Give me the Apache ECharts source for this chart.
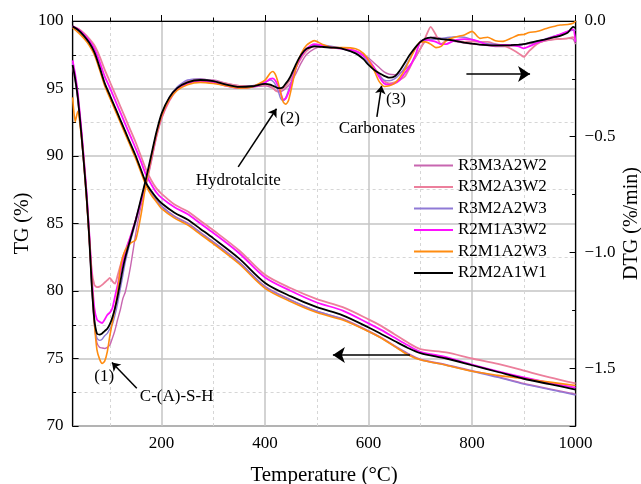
<!DOCTYPE html>
<html><head><meta charset="utf-8">
<script src="https://cdn.jsdelivr.net/npm/echarts@6.0.0/dist/echarts.min.js"></script>
<style>html,body{margin:0;padding:0;background:#fff}#c{width:641px;height:484px}</style>
</head><body><div id="c"></div>
<script>
const FONT = "'Liberation Serif','Times New Roman',serif";
const seriesNames = ['R3M3A2W2','R3M2A3W2','R3M2A2W3','R2M1A3W2','R2M1A2W3','R2M2A1W1'];
const seriesColors = ['#c866b0','#ec7f9c','#8f7ad6','#ff10ff','#ff8c10','#000000'];
const seriesWidths = [1.4,1.8,1.4,1.8,1.6,1.8];

// TG (%) vs temperature (°C)
const tgTemp = [28,40,50,60,70,80,90,100,110,120,130,140,150,160,170,180,190,200,225,250,275,300,350,400,450,500,550,600,625,650,675,700,750,800,850,900,950,1000];
const tg_R3M3A2W2 = [99.6,99.3,98.9,98.35,97.65,96.55,95.35,94.45,93.55,92.65,91.75,90.85,89.95,88.95,87.95,87.25,86.75,86.3,85.55,85.05,84.35,83.65,82.15,80.35,79.35,78.5,77.95,77.05,76.55,75.95,75.4,74.95,74.55,74.1,73.65,73.15,72.75,72.35];
const tg_R3M2A3W2 = [99.6,99.4,99.1,98.7,98.2,97.4,96.4,95.5,94.6,93.7,92.8,91.9,91.0,90.0,89.0,88.2,87.6,87.2,86.4,85.9,85.2,84.5,83.0,81.2,80.2,79.4,78.8,77.9,77.4,76.8,76.2,75.7,75.45,75.0,74.6,74.1,73.6,73.15];
const tg_R3M2A2W3 = [99.6,99.25,98.85,98.3,97.6,96.5,95.3,94.4,93.5,92.6,91.7,90.8,89.9,88.9,87.9,87.2,86.7,86.25,85.5,85.0,84.3,83.6,82.1,80.3,79.3,78.5,77.9,77.0,76.5,75.9,75.35,74.9,74.5,74.05,73.6,73.1,72.7,72.3];
const tg_R2M1A3W2 = [99.6,99.35,99.0,98.55,97.95,97.0,95.9,95.05,94.15,93.25,92.35,91.45,90.55,89.6,88.6,87.9,87.3,86.9,86.2,85.7,85.0,84.3,82.8,81.0,80.0,79.15,78.55,77.6,77.1,76.55,76.0,75.5,75.1,74.55,74.05,73.6,73.2,72.85];
const tg_R2M1A2W3 = [99.5,99.1,98.7,98.2,97.5,96.4,95.2,94.3,93.4,92.5,91.6,90.7,89.8,88.8,87.8,87.1,86.6,86.1,85.4,84.9,84.2,83.5,82.0,80.2,79.2,78.4,77.85,77.0,76.5,75.9,75.3,74.9,74.5,74.05,73.75,73.5,73.25,73.0];
const tg_R2M2A1W1 = [99.6,99.3,98.9,98.4,97.7,96.6,95.4,94.5,93.6,92.7,91.8,90.9,90.0,89.0,88.0,87.4,86.9,86.5,85.8,85.3,84.6,83.9,82.4,80.6,79.6,78.8,78.2,77.3,76.8,76.3,75.8,75.4,75.0,74.5,74.0,73.5,73.1,72.7];

// DTG (%/min) vs temperature (°C)
const dtgTemp = [28,33,38,45,50,55,60,65,70,75,80,85,90,95,100,105,110,115,120,125,130,140,150,160,170,180,190,200,215,230,250,275,300,325,350,375,400,410,415,420,425,430,435,440,445,450,460,470,480,495,510,530,550,575,590,600,610,620,630,640,650,660,670,680,690,700,710,720,730,740,750,760,770,785,800,815,830,845,860,875,890,900,910,925,940,955,970,985,995,1000];
const dtg_R3M3A2W2 = [-0.2,-0.26,-0.34,-0.5,-0.63,-0.77,-0.94,-1.15,-1.31,-1.39,-1.41,-1.413,-1.415,-1.41,-1.4,-1.37,-1.335,-1.29,-1.25,-1.2,-1.17,-1.06,-0.92,-0.8,-0.71,-0.61,-0.5,-0.42,-0.34,-0.29,-0.26,-0.255,-0.255,-0.27,-0.28,-0.285,-0.28,-0.285,-0.29,-0.3,-0.305,-0.305,-0.3,-0.29,-0.28,-0.265,-0.225,-0.18,-0.145,-0.12,-0.11,-0.112,-0.118,-0.13,-0.145,-0.16,-0.18,-0.2,-0.22,-0.23,-0.232,-0.225,-0.21,-0.19,-0.16,-0.12,-0.085,-0.07,-0.07,-0.075,-0.08,-0.085,-0.09,-0.095,-0.1,-0.103,-0.106,-0.11,-0.11,-0.108,-0.105,-0.1,-0.098,-0.095,-0.087,-0.08,-0.077,-0.075,-0.078,-0.1];
const dtg_R3M2A3W2 = [-0.18,-0.24,-0.32,-0.48,-0.61,-0.75,-0.92,-1.08,-1.14,-1.15,-1.148,-1.14,-1.13,-1.12,-1.11,-1.125,-1.135,-1.1,-1.06,-1.02,-0.99,-0.93,-0.86,-0.78,-0.7,-0.6,-0.5,-0.42,-0.345,-0.295,-0.26,-0.25,-0.26,-0.27,-0.28,-0.28,-0.275,-0.28,-0.29,-0.3,-0.305,-0.3,-0.29,-0.28,-0.265,-0.25,-0.2,-0.16,-0.13,-0.11,-0.11,-0.115,-0.12,-0.13,-0.15,-0.17,-0.2,-0.23,-0.26,-0.27,-0.265,-0.255,-0.24,-0.2,-0.155,-0.12,-0.07,-0.025,-0.06,-0.1,-0.085,-0.08,-0.085,-0.09,-0.089,-0.09,-0.09,-0.1,-0.105,-0.12,-0.14,-0.155,-0.13,-0.1,-0.085,-0.08,-0.078,-0.075,-0.07,-0.08];
const dtg_R3M2A2W3 = [-0.18,-0.25,-0.33,-0.49,-0.62,-0.76,-0.93,-1.14,-1.3,-1.37,-1.38,-1.375,-1.36,-1.35,-1.33,-1.31,-1.27,-1.22,-1.16,-1.1,-1.04,-0.95,-0.87,-0.78,-0.69,-0.59,-0.49,-0.405,-0.33,-0.285,-0.255,-0.25,-0.26,-0.275,-0.285,-0.28,-0.265,-0.255,-0.26,-0.275,-0.3,-0.335,-0.345,-0.33,-0.3,-0.27,-0.2,-0.15,-0.12,-0.105,-0.105,-0.11,-0.12,-0.14,-0.16,-0.18,-0.21,-0.235,-0.255,-0.258,-0.25,-0.23,-0.2,-0.16,-0.12,-0.09,-0.085,-0.08,-0.078,-0.075,-0.072,-0.07,-0.068,-0.07,-0.08,-0.09,-0.098,-0.1,-0.105,-0.105,-0.105,-0.1,-0.095,-0.088,-0.078,-0.068,-0.058,-0.045,-0.04,-0.04];
const dtg_R2M1A3W2 = [-0.17,-0.23,-0.31,-0.47,-0.6,-0.74,-0.91,-1.1,-1.24,-1.29,-1.3,-1.305,-1.29,-1.27,-1.26,-1.24,-1.19,-1.14,-1.09,-1.04,-1.0,-0.93,-0.86,-0.78,-0.69,-0.59,-0.49,-0.41,-0.34,-0.295,-0.27,-0.26,-0.265,-0.28,-0.29,-0.285,-0.265,-0.25,-0.248,-0.258,-0.28,-0.31,-0.34,-0.335,-0.31,-0.28,-0.2,-0.15,-0.12,-0.1,-0.105,-0.115,-0.12,-0.13,-0.15,-0.17,-0.2,-0.24,-0.27,-0.275,-0.27,-0.255,-0.225,-0.195,-0.15,-0.09,-0.08,-0.085,-0.09,-0.1,-0.1,-0.09,-0.082,-0.078,-0.08,-0.09,-0.104,-0.105,-0.103,-0.104,-0.11,-0.118,-0.11,-0.095,-0.082,-0.07,-0.058,-0.045,-0.035,-0.09];
const dtg_R2M1A2W3 = [-0.33,-0.435,-0.39,-0.5,-0.62,-0.77,-0.93,-1.12,-1.3,-1.42,-1.46,-1.48,-1.47,-1.43,-1.36,-1.3,-1.24,-1.17,-1.07,-1.02,-0.99,-0.96,-0.945,-0.84,-0.7,-0.59,-0.49,-0.41,-0.34,-0.3,-0.275,-0.265,-0.27,-0.28,-0.29,-0.285,-0.255,-0.225,-0.218,-0.232,-0.265,-0.31,-0.35,-0.36,-0.345,-0.3,-0.2,-0.14,-0.105,-0.085,-0.1,-0.115,-0.115,-0.12,-0.14,-0.17,-0.21,-0.26,-0.283,-0.28,-0.27,-0.245,-0.21,-0.165,-0.12,-0.09,-0.09,-0.1,-0.115,-0.11,-0.085,-0.075,-0.068,-0.06,-0.045,-0.075,-0.07,-0.085,-0.088,-0.075,-0.06,-0.058,-0.05,-0.045,-0.035,-0.025,-0.017,-0.015,-0.01,0.0];
const dtg_R2M2A1W1 = [-0.19,-0.25,-0.33,-0.49,-0.62,-0.76,-0.93,-1.14,-1.29,-1.35,-1.355,-1.35,-1.34,-1.33,-1.31,-1.28,-1.24,-1.19,-1.13,-1.07,-1.02,-0.94,-0.86,-0.77,-0.68,-0.58,-0.48,-0.4,-0.33,-0.29,-0.265,-0.255,-0.26,-0.275,-0.285,-0.282,-0.272,-0.275,-0.28,-0.285,-0.29,-0.29,-0.285,-0.27,-0.255,-0.235,-0.185,-0.145,-0.12,-0.11,-0.112,-0.115,-0.12,-0.14,-0.165,-0.19,-0.21,-0.225,-0.237,-0.245,-0.24,-0.215,-0.18,-0.145,-0.115,-0.09,-0.076,-0.072,-0.075,-0.078,-0.08,-0.083,-0.087,-0.093,-0.098,-0.102,-0.104,-0.105,-0.105,-0.104,-0.102,-0.1,-0.095,-0.087,-0.08,-0.072,-0.064,-0.05,-0.025,-0.03];

const tgSets = [tg_R3M3A2W2,tg_R3M2A3W2,tg_R3M2A2W3,tg_R2M1A3W2,tg_R2M1A2W3,tg_R2M2A1W1];
const dtgSets = [dtg_R3M3A2W2,dtg_R3M2A3W2,dtg_R3M2A2W3,dtg_R2M1A3W2,dtg_R2M1A2W3,dtg_R2M2A1W1];

// Annotations (data coordinates: temperature, TG axis)
const annoTexts = [
  {name:'Hydrotalcite', coord:[348,88.2]},
  {name:'(2)', coord:[448,92.75]},
  {name:'Carbonates', coord:[616,92.0]},
  {name:'(3)', coord:[653,94.15]},
  {name:'(1)', coord:[89,73.65]},
  {name:'C-(A)-S-H', coord:[229,72.2]}
];
const annoArrows = [
  {from:[348,89.2], to:[422,93.5], size:8},
  {from:[616,92.9], to:[625,95.2], size:8},
  {from:[152,72.8], to:[104,74.7], size:8},
  {from:[789,96.07], to:[912,96.07], size:12},
  {from:[680,75.26], to:[531,75.26], size:12}
];

const chart = echarts.init(document.getElementById('c'));
const series = [];
seriesNames.forEach((n,i)=>{
  series.push({name:n,type:'line',xAxisIndex:0,yAxisIndex:0,symbol:'none',smooth:0.3,
    lineStyle:{color:seriesColors[i],width:seriesWidths[i]},itemStyle:{color:seriesColors[i]},
    data:tgTemp.map((t,k)=>[t,tgSets[i][k]]),animation:false});
  series.push({name:n,type:'line',xAxisIndex:0,yAxisIndex:1,symbol:'none',smooth:0.2,
    lineStyle:{color:seriesColors[i],width:seriesWidths[i]},itemStyle:{color:seriesColors[i]},
    data:dtgTemp.map((t,k)=>[t,dtgSets[i][k]]),animation:false});
});
series.push({name:'annotations',type:'line',xAxisIndex:0,yAxisIndex:0,data:[],animation:false,
  markLine:{silent:true,animation:false,symbol:['none','arrow'],label:{show:false},
    lineStyle:{color:'#000',width:1.5,type:'solid'},
    data:annoArrows.map(a=>[{coord:a.from,symbolSize:a.size},{coord:a.to,symbolSize:a.size}])},
  markPoint:{silent:true,animation:false,symbol:'rect',symbolSize:1,itemStyle:{color:'rgba(0,0,0,0)'},
    label:{show:true,position:'inside',formatter:'{b}',color:'#000',fontFamily:FONT,fontSize:17},
    data:annoTexts.map(a=>({name:a.name,coord:a.coord}))}
});

const axisText = {color:'#000',fontFamily:FONT,fontSize:17};
chart.setOption({
  animation:false,
  backgroundColor:'#fff',
  grid:{left:72.6,right:65.4,top:21,bottom:58,outerBoundsMode:'none',containLabel:false,
    show:true,borderColor:'#000',borderWidth:1.2,backgroundColor:'transparent'},
  legend:{orient:'vertical',left:414,top:157,padding:0,icon:'rect',itemWidth:39,itemHeight:2,itemGap:4.5,
    textStyle:{color:'#000',fontFamily:FONT,fontSize:17,lineHeight:17},data:seriesNames},
  xAxis:{type:'value',min:28,max:1000,
    axisLine:{lineStyle:{color:'#000',width:1.2}},
    axisTick:{inside:true,length:6,lineStyle:{color:'#000'}},
    minorTick:{show:true,splitNumber:2,length:3.5,lineStyle:{color:'#000'}},
    splitLine:{show:true,lineStyle:{color:'#c4c4c4',width:1.5}},
    minorSplitLine:{show:true,lineStyle:{color:'#d6d6d6',width:1,type:[3,3]}},
    axisLabel:Object.assign({showMinLabel:false,margin:9,formatter:v=>String(v)},axisText),
    name:'Temperature (°C)',nameLocation:'middle',nameGap:39,nameMoveOverlap:false,
    nameTextStyle:{color:'#000',fontFamily:FONT,fontSize:21}},
  yAxis:[
    {type:'value',min:70,max:100,interval:5,position:'left',
      axisLine:{show:true,lineStyle:{color:'#000',width:1.2}},
      axisTick:{show:true,inside:true,length:6,lineStyle:{color:'#000'}},
      minorTick:{show:true,splitNumber:2,length:3.5,lineStyle:{color:'#000'}},
      splitLine:{show:true,lineStyle:{color:'#c4c4c4',width:1.5}},
      minorSplitLine:{show:true,lineStyle:{color:'#d6d6d6',width:1,type:[3,3]}},
      axisLabel:Object.assign({margin:9},axisText),
      name:'TG (%)',nameLocation:'middle',nameGap:40,nameMoveOverlap:false,
      nameTextStyle:{color:'#000',fontFamily:FONT,fontSize:20}},
    {type:'value',min:-1.75,max:0,splitNumber:4,position:'right',
      axisLine:{show:true,lineStyle:{color:'#000',width:1.2}},
      axisTick:{show:true,inside:true,length:6,lineStyle:{color:'#000'}},
      minorTick:{show:true,splitNumber:2,length:3.5,lineStyle:{color:'#000'}},
      splitLine:{show:false},
      axisLabel:Object.assign({margin:9,showMinLabel:false,
        formatter:v=>v===0?'0.0':'\u2212'+Math.abs(v).toFixed(1)},axisText),
      name:'DTG (%/min)',nameLocation:'middle',nameGap:46,nameMoveOverlap:false,
      nameTextStyle:{color:'#000',fontFamily:FONT,fontSize:20}}
  ],
  series:series
});
</script></body></html>
